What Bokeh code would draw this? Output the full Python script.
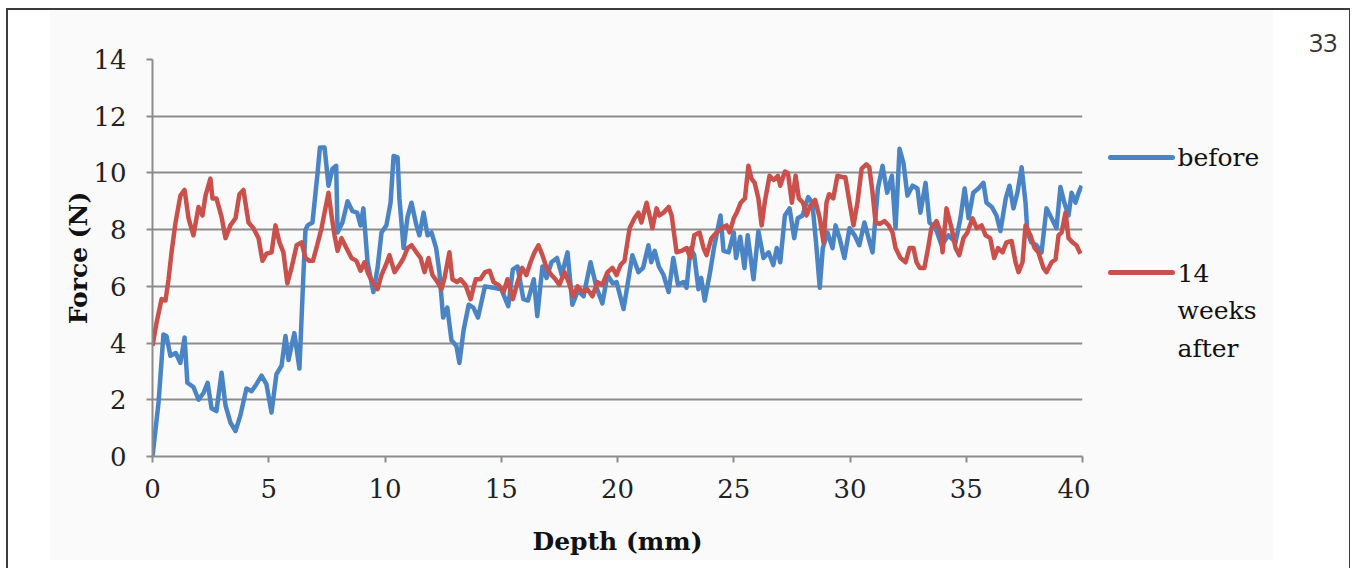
from bokeh.plotting import figure
from bokeh.layouts import row
from bokeh.models import Range1d, FixedTicker
from bokeh.core.properties import value
from bokeh.embed import file_html
from bokeh.resources import INLINE

# ---- data ----
before_depth = [0, 0.26, 0.47, 0.6, 0.77, 1.0, 1.2, 1.38, 1.5, 1.76,
                1.98, 2.2, 2.37, 2.54, 2.75, 2.97, 3.14, 3.35, 3.57, 3.78,
                4.04, 4.26, 4.47, 4.69, 4.9, 5.12, 5.33, 5.55, 5.72, 5.85,
                6.1, 6.32, 6.49, 6.58, 6.67, 6.88, 7.1, 7.2, 7.4, 7.57,
                7.74, 7.9, 7.96, 8.17, 8.39, 8.6, 8.8, 8.95, 9.07, 9.25,
                9.5, 9.68, 9.85, 10.06, 10.24, 10.37, 10.54, 10.62, 10.8, 10.97,
                11.14, 11.35, 11.48, 11.66, 11.83, 12.0, 12.2, 12.34, 12.5, 12.68,
                12.86, 13.07, 13.2, 13.38, 13.6, 13.8, 14.0, 14.3, 14.67, 15.0,
                15.3, 15.5, 15.7, 15.95, 16.15, 16.4, 16.55, 16.77, 16.95, 17.16,
                17.4, 17.6, 17.85, 18.06, 18.3, 18.54, 18.84, 19.1, 19.35, 19.57,
                19.8, 19.96, 20.26, 20.47, 20.64, 20.9, 21.1, 21.33, 21.45, 21.6,
                21.78, 21.98, 22.2, 22.4, 22.6, 22.84, 22.97, 23.14, 23.3, 23.48,
                23.6, 23.75, 23.96, 24.17, 24.43, 24.56, 24.78, 25.0, 25.1, 25.28,
                25.46, 25.6, 25.85, 26.06, 26.28, 26.5, 26.7, 26.85, 27.0, 27.2,
                27.4, 27.6, 27.75, 27.96, 28.2, 28.38, 28.55, 28.7, 28.83, 29.03,
                29.25, 29.38, 29.55, 29.76, 29.98, 30.2, 30.4, 30.62, 30.83, 30.97,
                31.2, 31.4, 31.6, 31.8, 31.96, 32.13, 32.3, 32.47, 32.69, 32.9,
                33.03, 33.25, 33.42, 33.68, 33.94, 34.24, 34.54, 34.75, 34.93, 35.1,
                35.3, 35.52, 35.74, 35.87, 36.1, 36.3, 36.47, 36.7, 36.86, 37.03,
                37.2, 37.38, 37.55, 37.63, 37.8, 38.02, 38.24, 38.45, 38.67, 38.88,
                39.05, 39.22, 39.4, 39.53, 39.7, 39.83, 39.96]
before_force = [0, 1.9, 4.3, 4.25, 3.55, 3.65, 3.3, 4.2, 2.6, 2.45,
                2.0, 2.25, 2.6, 1.7, 1.6, 2.95, 1.8, 1.2, 0.9, 1.45,
                2.4, 2.3, 2.55, 2.85, 2.55, 1.55, 2.9, 3.2, 4.25, 3.4,
                4.35, 3.1, 6.4, 8.0, 8.15, 8.25, 10.0, 10.9, 10.9, 9.55,
                10.15, 10.25, 7.9, 8.25, 9.0, 8.65, 8.6, 8.15, 8.75, 6.85,
                5.8, 6.65, 7.9, 8.15, 8.95, 10.6, 10.55, 9.1, 7.35, 8.45,
                8.95, 8.15, 7.8, 8.6, 7.8, 7.9, 7.35, 6.5, 4.9, 5.25,
                4.1, 3.9, 3.3, 4.45, 5.35, 5.25, 4.9, 6.0, 5.95, 5.9,
                5.3, 6.6, 6.7, 5.55, 5.5, 6.25, 4.95, 6.7, 6.3, 6.85,
                7.0, 6.4, 7.2, 5.35, 5.85, 5.65, 6.85, 5.95, 5.4, 6.4,
                6.1, 6.15, 5.2, 6.25, 7.1, 6.5, 6.65, 7.45, 6.85, 7.25,
                6.7, 6.4, 5.8, 7.0, 6.05, 6.15, 5.95, 7.35, 7.1, 5.9,
                6.3, 5.5, 6.4, 7.45, 8.5, 7.25, 7.2, 7.9, 7.0, 7.75,
                6.65, 7.8, 6.25, 7.95, 7.0, 7.2, 6.75, 7.35, 6.85, 8.5,
                8.75, 7.7, 8.4, 8.5, 9.15, 8.95, 7.45, 5.95, 7.35, 7.9,
                7.35, 8.15, 7.7, 7.0, 8.05, 7.8, 7.45, 8.25, 7.6, 7.2,
                9.45, 10.25, 9.3, 9.9, 8.05, 10.85, 10.35, 9.2, 9.55, 9.45,
                8.6, 9.65, 8.25, 8.05, 7.45, 7.8, 7.55, 8.4, 9.45, 8.4,
                9.3, 9.45, 9.65, 8.95, 8.8, 8.5, 7.95, 9.1, 9.55, 8.75,
                9.3, 10.2, 8.95, 7.9, 7.55, 7.45, 7.2, 8.75, 8.4, 8.05,
                9.5, 8.95, 8.5, 9.3, 8.95, 9.3, 9.55]

after_depth = [0, 0.17, 0.39, 0.56, 0.69, 0.82, 0.99, 1.2, 1.38, 1.55,
               1.76, 1.98, 2.15, 2.28, 2.49, 2.58, 2.75, 2.97, 3.14, 3.35,
               3.57, 3.74, 3.91, 4.13, 4.34, 4.56, 4.73, 4.9, 5.12, 5.29,
               5.46, 5.63, 5.8, 5.98, 6.2, 6.41, 6.58, 6.75, 6.9, 7.05,
               7.27, 7.4, 7.57, 7.7, 7.83, 7.96, 8.13, 8.34, 8.56, 8.77,
               8.95, 9.12, 9.25, 9.46, 9.68, 9.85, 10.06, 10.19, 10.41, 10.62,
               10.8, 10.97, 11.14, 11.35, 11.53, 11.7, 11.87, 12.04, 12.26, 12.43,
               12.56, 12.77, 12.9, 13.1, 13.25, 13.46, 13.68, 13.9, 14.1, 14.3,
               14.5, 14.67, 14.88, 15.1, 15.27, 15.5, 15.7, 15.9, 16.08, 16.26,
               16.43, 16.6, 16.77, 16.95, 17.16, 17.33, 17.5, 17.72, 17.9, 18.1,
               18.28, 18.5, 18.7, 18.92, 19.14, 19.35, 19.57, 19.78, 19.96, 20.13,
               20.3, 20.52, 20.73, 20.9, 21.03, 21.25, 21.38, 21.5, 21.68, 21.8,
               21.98, 22.2, 22.33, 22.54, 22.75, 22.97, 23.14, 23.3, 23.53, 23.7,
               23.83, 24.04, 24.26, 24.47, 24.69, 24.82, 25.0, 25.13, 25.3, 25.48,
               25.63, 25.76, 25.9, 26.06, 26.2, 26.33, 26.54, 26.72, 26.9, 27.0,
               27.2, 27.33, 27.5, 27.66, 27.8, 27.98, 28.13, 28.3, 28.5, 28.7,
               28.86, 28.99, 29.1, 29.28, 29.46, 29.68, 29.8, 29.98, 30.15, 30.32,
               30.5, 30.7, 30.83, 30.97, 31.1, 31.27, 31.48, 31.66, 31.83, 31.96,
               32.17, 32.39, 32.56, 32.73, 32.86, 33.0, 33.2, 33.38, 33.5, 33.72,
               33.9, 33.98, 34.15, 34.37, 34.54, 34.7, 34.88, 35.05, 35.27, 35.45,
               35.66, 35.83, 36.03, 36.2, 36.37, 36.56, 36.73, 36.95, 37.12, 37.25,
               37.42, 37.55, 37.76, 37.94, 38.1, 38.32, 38.45, 38.67, 38.84, 38.97,
               39.1, 39.27, 39.4, 39.57, 39.74, 39.91]
after_force = [3.9, 4.7, 5.55, 5.5, 6.25, 7.2, 8.25, 9.2, 9.4, 8.4,
               7.8, 8.8, 8.5, 9.2, 9.8, 9.1, 9.1, 8.45, 7.7, 8.15,
               8.4, 9.25, 9.4, 8.25, 8.05, 7.7, 6.9, 7.15, 7.2, 8.15,
               7.55, 7.2, 6.1, 6.65, 7.45, 7.55, 7.0, 6.9, 6.9, 7.35,
               8.05, 8.6, 9.3, 8.5, 7.8, 7.25, 7.7, 7.35, 7.0, 6.9,
               6.55, 6.85, 6.5, 6.15, 5.9, 6.4, 6.8, 7.1, 6.5, 6.75,
               7.0, 7.35, 7.45, 7.2, 7.0, 6.5, 7.0, 6.4, 6.15, 5.9,
               6.3, 7.2, 6.25, 6.15, 6.25, 6.05, 5.55, 6.25, 6.25, 6.5,
               6.55, 6.15, 6.05, 5.8, 6.25, 5.55, 6.15, 6.65, 6.4, 6.85,
               7.2, 7.45, 7.1, 6.65, 6.4, 6.25, 6.05, 6.5, 6.15, 5.65,
               6.0, 5.8, 5.9, 5.65, 6.15, 6.05, 6.5, 6.65, 6.4, 6.75,
               6.9, 8.05, 8.4, 8.6, 8.25, 8.95, 8.5, 8.05, 8.75, 8.5,
               8.6, 8.8, 8.5, 7.2, 7.25, 7.35, 7.0, 7.8, 7.9, 7.35,
               7.1, 7.7, 7.9, 8.05, 8.15, 7.9, 8.4, 8.6, 8.95, 9.1,
               10.25, 9.8, 9.65, 9.1, 8.15, 8.95, 9.9, 9.75, 9.9, 9.55,
               10.05, 10.0, 8.95, 9.9, 9.1, 8.95, 8.5, 8.85, 9.05, 8.4,
               7.55, 8.95, 9.25, 9.1, 9.9, 9.85, 9.85, 8.95, 8.15, 8.95,
               10.15, 10.3, 10.2, 9.3, 8.25, 8.2, 8.3, 8.15, 7.9, 7.35,
               7.0, 6.85, 7.35, 7.35, 6.85, 6.65, 6.65, 7.45, 8.05, 8.3,
               7.9, 7.2, 8.75, 8.05, 7.35, 7.1, 7.7, 7.9, 8.4, 8.05,
               8.15, 7.8, 7.7, 7.0, 7.35, 7.2, 7.55, 7.6, 6.85, 6.5,
               6.85, 8.15, 7.8, 7.35, 7.2, 6.65, 6.5, 6.85, 6.95, 7.8,
               7.9, 8.6, 7.7, 7.55, 7.45, 7.15]

series_labels = ["before", "14\nweeks\nafter"]
x_ticks = [0, 5, 10, 15, 20, 25, 30, 35, 40]
y_ticks = [0, 2, 4, 6, 8, 10, 12, 14]
page_number = "33"

BLUE = "#4A84C4"
RED = "#C9504B"
GRID = "#8C8C8C"
SERIF = "DejaVu Serif"

# ---------------- main chart ----------------
p = figure(width=1090, height=568, x_range=Range1d(0, 40), y_range=Range1d(0, 14),
           output_backend="svg", toolbar_location=None,
           min_border_left=152, min_border_right=8, min_border_top=59, min_border_bottom=112)
p.background_fill_color = "#FAFAFA"
p.border_fill_color = None
p.outline_line_color = None

r1 = p.line(before_depth, before_force, line_color=BLUE, line_width=4.5, line_join="round")
r2 = p.line(after_depth, after_force, line_color=RED, line_width=4.5, line_join="round")

p.xgrid.visible = False
p.ygrid.ticker = FixedTicker(ticks=y_ticks)
p.ygrid.grid_line_color = GRID
p.ygrid.grid_line_width = 2

for ax in (p.xaxis[0], p.yaxis[0]):
    ax.axis_line_color = GRID
    ax.axis_line_width = 2
    ax.major_tick_line_color = GRID
    ax.major_tick_line_width = 2
    ax.major_tick_out = 6
    ax.major_tick_in = 0
    ax.minor_tick_line_color = None
    ax.major_label_text_font = SERIF
    ax.major_label_text_font_size = "26px"
    ax.major_label_text_color = "#222222"
    ax.axis_label_text_font = SERIF
    ax.axis_label_text_font_size = "25px"
    ax.axis_label_text_font_style = "bold"
    ax.axis_label_text_color = "#111111"

p.xaxis.ticker = FixedTicker(ticks=x_ticks)
p.yaxis.ticker = FixedTicker(ticks=y_ticks)
p.xaxis.axis_label = "Depth (mm)"
p.yaxis.axis_label = "Force (N)"
p.xaxis.major_label_standoff = 16
p.yaxis.major_label_standoff = 20
p.xaxis.axis_label_standoff = 26
p.yaxis.axis_label_standoff = -3

# ---------------- legend + page number panel ----------------
# its frame is aligned with the chart's frame (y 59..456, x 1090..1337 on the page),
# so the ranges below make data units equal page pixels (x offset by 1090).
q = figure(width=266, height=568, x_range=Range1d(0, 247), y_range=Range1d(456, 59),
           output_backend="svg", toolbar_location=None, x_axis_type=None, y_axis_type=None,
           min_border_left=0, min_border_right=19, min_border_top=59, min_border_bottom=112)
q.background_fill_color = None
q.border_fill_color = None
q.outline_line_color = None
q.grid.visible = False

swatch_x0, swatch_x1, text_x = 20, 82, 87
swatch_y = [157, 272]
line_step = 38
colors = [BLUE, RED]
tx, ty, tt = [], [], []
for label, sy, col in zip(series_labels, swatch_y, colors):
    q.segment(x0=[swatch_x0], y0=[sy], x1=[swatch_x1], y1=[sy],
              line_color=col, line_width=5, line_cap="round")
    for k, part in enumerate(label.split("\n")):
        tx.append(text_x)
        ty.append(sy + k * line_step)
        tt.append(part)
q.text(x=tx, y=ty, text=tt, text_baseline="middle", text_align="left",
       text_font=value(SERIF), text_font_size="25px", text_color="#111111")

q.title.text = page_number
q.title.align = "right"
q.title.standoff = 16
q.title.text_font = "Open Sans"
q.title.text_font_size = "25px"
q.title.text_font_style = "normal"
q.title.text_color = "#333333"

layout = row(p, q)
# page look: light chart panel inside a thin dark page border
layout.styles = {
    "background": ("linear-gradient(#FAFAFA, #FAFAFA) 50px 10px / 1223px 550px no-repeat, "
                   "linear-gradient(#FFFFFF, #FFFFFF) 7.5px 9.5px / 1341px 700px no-repeat, "
                   "linear-gradient(#3C3C3C, #3C3C3C) 6px 8px / 1344px 700px no-repeat, #FFFFFF"),
}

open("out.html", "w").write(file_html(layout, INLINE))
